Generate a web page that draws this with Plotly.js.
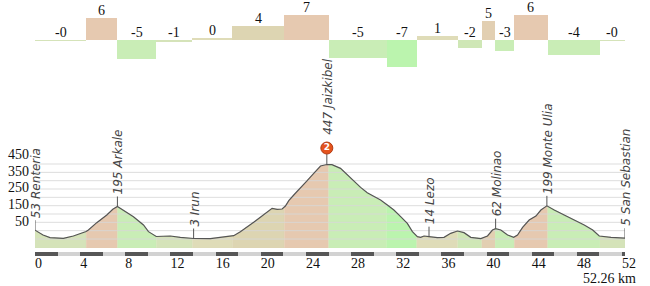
<!DOCTYPE html>
<html>
<head>
<meta charset="utf-8">
<script src="https://cdn.plot.ly/plotly-3.0.1.min.js"></script>
<style>html,body{margin:0;padding:0;background:#fff;}#chart{width:650px;height:286px;}</style>
</head>
<body>
<div id="chart"></div>
<script>
// ---------------- data ----------------
const totalKm = 52.26;
const profKm = [0, 0.71, 1.33, 2.51, 3.40, 4.29, 4.53, 4.73, 5.47, 6.36, 6.89, 7.30, 7.83, 8.72, 9.61, 10.05, 10.74, 11.98, 12.87, 14.05, 15.53, 16.42, 17.01, 17.60, 18.19, 18.78, 19.37, 19.96, 20.56, 21.00, 21.45, 21.89, 22.18, 22.48, 22.92, 23.51, 24.11, 24.69, 25.29, 25.85, 26.30, 27.06, 27.66, 28.24, 28.84, 29.43, 30.02, 30.61, 31.21, 31.79, 32.39, 32.98, 33.43, 33.87, 34.16, 34.46, 34.90, 35.64, 36.23, 36.82, 37.42, 38.00, 38.60, 39.49, 40.08, 40.52, 40.80, 41.26, 41.86, 42.40, 42.74, 43.19, 43.77, 44.37, 44.81, 45.34, 45.99, 46.88, 47.76, 48.65, 49.40, 49.98, 51.02, 52.26];
const profElev = [53, 24, 8, 4, 18, 38, 45, 54, 98, 144, 178, 195, 174, 134, 84, 44, 15, 18, 10, 3, 2, 10, 18, 20, 44, 70, 100, 130, 164, 184, 178, 180, 198, 230, 264, 304, 350, 394, 438, 447, 446, 424, 384, 344, 310, 278, 254, 234, 204, 174, 134, 94, 44, 14, 10, 18, 14, 8, 10, 34, 48, 38, 10, 2, 18, 54, 62, 54, 24, 10, 24, 70, 114, 138, 174, 199, 174, 144, 114, 84, 54, 18, 10, 5];

const segEdges = [0, 4.53, 7.30, 10.74, 13.93, 17.48, 22.09, 26.0, 31.14, 33.8, 37.44, 39.57, 40.75, 42.45, 45.40, 50.04, 52.26];
const segGrades = [-0.2, 5.7, -4.9, -0.6, 0.4, 3.7, 6.5, -4.6, -7.0, 0.9, -2.1, 4.9, -2.8, 6.3, -3.8, -0.3];
const segLabels = ["-0", "6", "-5", "-1", "0", "4", "7", "-5", "-7", "1", "-2", "5", "-3", "6", "-4", "-0"];

const wpKm = [0, 7.30, 14.05, 25.85, 34.90, 40.80, 45.34, 52.26];
const wpElev = [53, 195, 3, 447, 14, 62, 199, 5];
const wpName = ["Renteria", "Arkale", "Irun", "Jaizkibel", "Lezo", "Molinao", "Monte Ulia", "San Sebastian"];
const wpClimb = [null, null, null, "2", null, null, null, null];

const xTickVals = [0, 4, 8, 12, 16, 20, 24, 28, 32, 36, 40, 44, 48, 52];
const yTickVals = [50, 150, 250, 350, 450];
const yGridVals = [0, 50, 100, 150, 200, 250, 300, 350, 400, 450];

// ---------------- geometry / style ----------------
const W = 650, H = 286;
const xDom = [35 / W, 625 / W];
const yMainDom = [(H - 248) / H, (H - 145.7) / H];
const yMainRange = [-54, 560];
const yBarDom = [(H - 71.2) / H, (H - 8.8) / H];
const yScaleDom = [(H - 256) / H, (H - 252) / H];
const pxPerM = ((yMainDom[1] - yMainDom[0]) * H) / (yMainRange[1] - yMainRange[0]);
const LEADER = 10, CLIMB_LEADER = 10.5, CLIMB_R = 6;

function gradeColor(g) {
  if (g >= 5.5) return '#e6c9b0';
  if (g >= 4.5) return '#e2cfb2';
  if (g >= 2.5) return '#ddd5b2';
  if (g >= 0) return '#dfdcb8';
  if (g > -1.5) return '#d5e3b9';
  if (g > -2.5) return '#cfe7b6';
  if (g > -5.5) return '#c9edb6';
  return '#bbf4ae';
}
function elevAt(k) {
  for (let i = 0; i < profKm.length - 1; i++) {
    if (k >= profKm[i] && k <= profKm[i + 1]) {
      const t = (k - profKm[i]) / (profKm[i + 1] - profKm[i] || 1);
      return profElev[i] + t * (profElev[i + 1] - profElev[i]);
    }
  }
  return profElev[profElev.length - 1];
}

const traces = [];

// profile fills per segment
for (let s = 0; s < segGrades.length; s++) {
  const a = segEdges[s], b = segEdges[s + 1];
  const xs = [a], ys = [elevAt(a)];
  for (let i = 0; i < profKm.length; i++) {
    if (profKm[i] > a && profKm[i] < b) { xs.push(profKm[i]); ys.push(profElev[i]); }
  }
  xs.push(b, b, a); ys.push(elevAt(b), yMainRange[0], yMainRange[0]);
  const c = gradeColor(segGrades[s]);
  traces.push({type: 'scatter', mode: 'lines', x: xs, y: ys, fill: 'toself', fillcolor: c,
    line: {width: 0.6, color: c}, hoverinfo: 'skip', xaxis: 'x', yaxis: 'y'});
}

// grid lines (drawn over the fill)
const gx = [], gy = [];
yGridVals.forEach(v => { gx.push(0, totalKm, null); gy.push(v, v, null); });
traces.push({type: 'scatter', mode: 'lines', x: gx, y: gy, line: {color: 'rgba(215,215,215,0.85)', width: 1},
  hoverinfo: 'skip', xaxis: 'x', yaxis: 'y'});

// profile line
traces.push({type: 'scatter', mode: 'lines', x: profKm, y: profElev, line: {color: '#555', width: 1.2},
  hoverinfo: 'skip', xaxis: 'x', yaxis: 'y'});

// leader ticks above waypoints
const lx = [], ly = [];
wpKm.forEach((k, i) => {
  const len = wpClimb[i] !== null ? CLIMB_LEADER : LEADER;
  lx.push(k, k, null); ly.push(wpElev[i], wpElev[i] + len / pxPerM, null);
});
traces.push({type: 'scatter', mode: 'lines', x: lx, y: ly, line: {color: '#555', width: 1},
  cliponaxis: false, hoverinfo: 'skip', xaxis: 'x', yaxis: 'y'});

// climb marker
const ci = wpClimb.findIndex(v => v !== null);
traces.push({type: 'scatter', mode: 'markers+text', x: [wpKm[ci]], y: [wpElev[ci] + (CLIMB_LEADER + CLIMB_R) / pxPerM],
  marker: {size: 12, color: '#e4531d', line: {color: '#b33a12', width: 1}},
  text: [wpClimb[ci]], textposition: 'middle center',
  textfont: {family: 'DejaVu Sans', size: 9, color: '#fff', weight: 'bold'},
  cliponaxis: false, hoverinfo: 'skip', xaxis: 'x', yaxis: 'y'});

// gradient bars
const segMid = [], segW = [], segCol = [];
for (let s = 0; s < segGrades.length; s++) {
  segMid.push((segEdges[s] + segEdges[s + 1]) / 2);
  segW.push(segEdges[s + 1] - segEdges[s]);
  segCol.push(gradeColor(segGrades[s]));
}
traces.push({type: 'bar', x: segMid, y: segGrades, width: segW, base: 0,
  marker: {color: segCol, line: {width: 0}}, hoverinfo: 'skip', xaxis: 'x2', yaxis: 'y2'});

// distance scale bar
const sbX = [], sbW = [], sbC = [];
for (let k = 0, i = 0; k < totalKm; k += 2, i++) {
  const e = Math.min(k + 2, totalKm);
  sbX.push((k + e) / 2); sbW.push(e - k); sbC.push(i % 2 === 0 ? '#575757' : '#d2d2d2');
}
traces.push({type: 'bar', x: sbX, y: sbX.map(() => 1), width: sbW, base: 0,
  marker: {color: sbC, line: {width: 0}}, hoverinfo: 'skip', xaxis: 'x3', yaxis: 'y3'});

// annotations
const annotations = [];
segMid.forEach((m, s) => {
  annotations.push({xref: 'x2', yref: 'y2', x: m, y: Math.max(0, segGrades[s]), text: segLabels[s],
    showarrow: false, xanchor: 'center', yanchor: 'bottom', yshift: -1, borderpad: 0,
    font: {family: 'Liberation Serif', size: 14, color: '#111'}});
});
wpKm.forEach((k, i) => {
  const climb = wpClimb[i] !== null;
  annotations.push({
    xref: 'x', yref: 'y', x: k, y: wpElev[i],
    text: wpElev[i] + ' ' + wpName[i], textangle: -90,
    showarrow: false, xanchor: 'center', yanchor: 'bottom', borderpad: 0,
    yshift: climb ? 29 : LEADER + 1, xshift: 1,
    font: {family: 'DejaVu Sans', size: 12, color: '#444', style: 'italic'}
  });
});
annotations.push({xref: 'paper', yref: 'paper', x: 638 / W, y: (H - 278) / H, xanchor: 'right', yanchor: 'middle',
  showarrow: false, text: totalKm.toFixed(2) + ' km', font: {family: 'Liberation Serif', size: 14, color: '#111'}});

const hidden = {visible: false, fixedrange: true};
const layout = {
  width: W, height: H, margin: {l: 0, r: 0, t: 0, b: 0},
  paper_bgcolor: '#fff', plot_bgcolor: 'rgba(0,0,0,0)', showlegend: false, bargap: 0,
  xaxis: Object.assign({domain: xDom, range: [0, totalKm], anchor: 'y'}, hidden),
  yaxis: {domain: yMainDom, range: yMainRange, anchor: 'x', showgrid: false, zeroline: false, showline: false,
    tickvals: yTickVals, ticks: '', ticklabelposition: 'outside top', ticklabelstandoff: 5,
    tickfont: {family: 'Liberation Serif', size: 14, color: '#111'}},
  xaxis2: Object.assign({domain: xDom, range: [0, totalKm], anchor: 'y2'}, hidden),
  yaxis2: Object.assign({domain: yBarDom, range: [-8, 8], anchor: 'x2'}, hidden),
  xaxis3: {domain: xDom, range: [0, totalKm], anchor: 'y3', showgrid: false, zeroline: false, showline: false,
    tickvals: xTickVals, ticks: '', ticklabelposition: 'outside right', ticklabelstandoff: -3,
    tickfont: {family: 'Liberation Serif', size: 14, color: '#111'}},
  yaxis3: Object.assign({domain: yScaleDom, range: [0, 1], anchor: 'x3'}, hidden),
  annotations: annotations
};
Plotly.newPlot('chart', traces, layout, {staticPlot: true, displayModeBar: false});
</script>
</body>
</html>
